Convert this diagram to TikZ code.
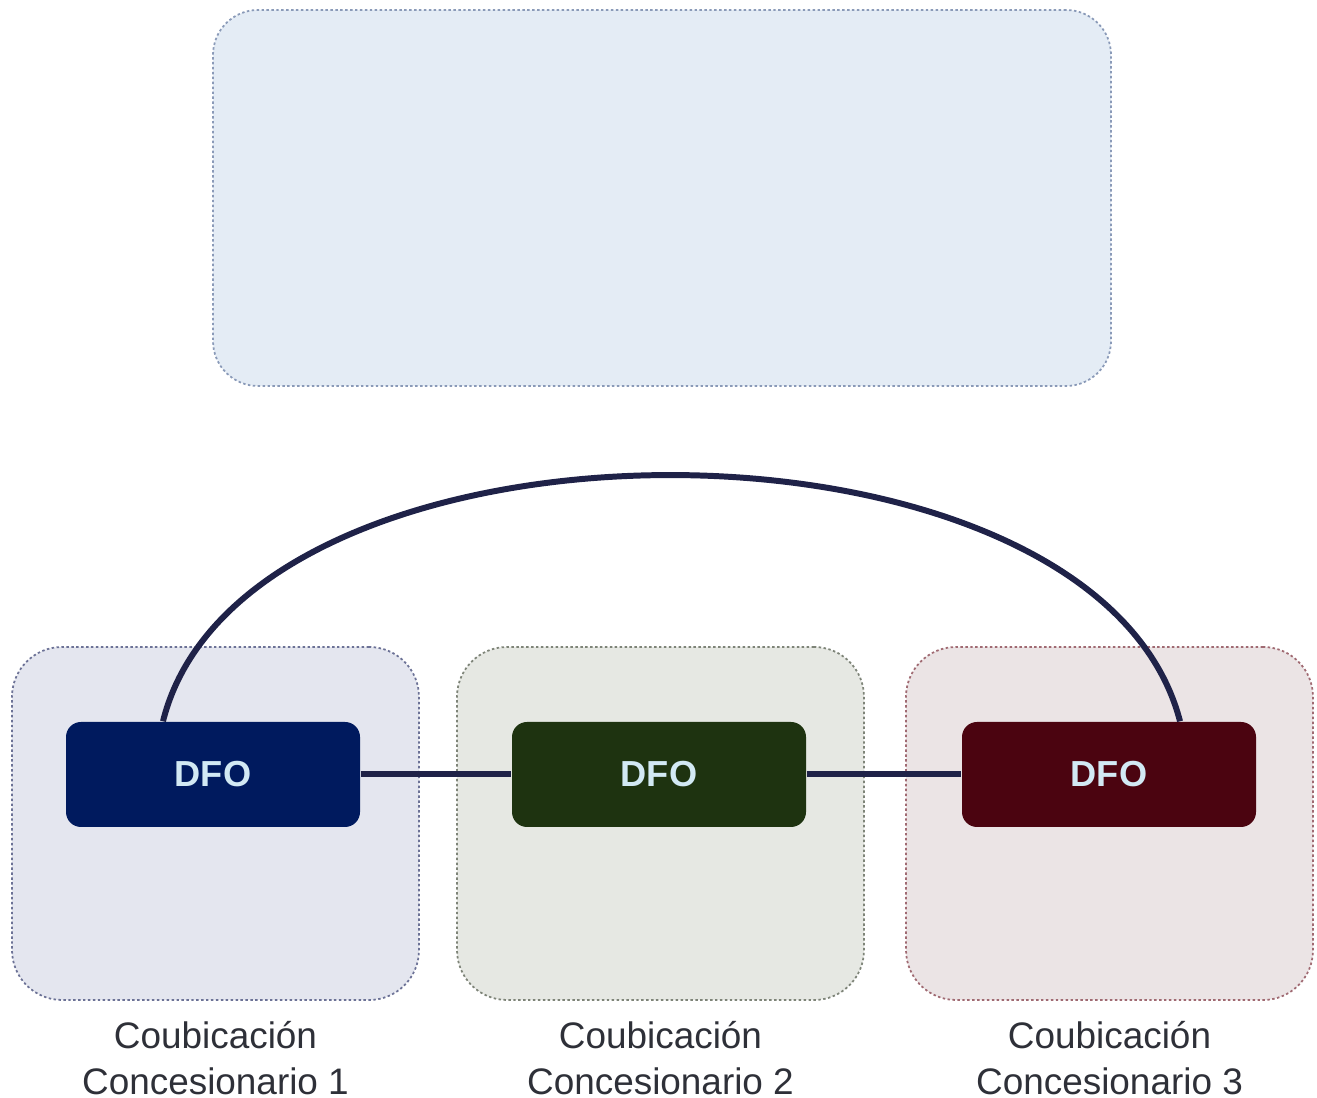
\documentclass[tikz,border=0pt]{standalone}
\usepackage{fontspec}
\setmainfont{Liberation Sans}
\usepackage{xcolor}
\usetikzlibrary{positioning, calc}
\definecolor{topfill}{HTML}{E4ECF5}
\definecolor{topline}{HTML}{8A9AB8}
\definecolor{sitefillA}{HTML}{E4E6EF}
\definecolor{sitelineA}{HTML}{6C7296}
\definecolor{sitefillB}{HTML}{E6E8E3}
\definecolor{sitelineB}{HTML}{7E8478}
\definecolor{sitefillC}{HTML}{EBE4E5}
\definecolor{sitelineC}{HTML}{A06A72}
\definecolor{dfoblue}{HTML}{001A5E}
\definecolor{dfogreen}{HTML}{1E3310}
\definecolor{dfored}{HTML}{4B0410}
\definecolor{dfotext}{HTML}{D2E9F4}
\definecolor{fiber}{HTML}{1F2248}
\definecolor{labeltext}{HTML}{2E3038}
\begin{document}
\begin{tikzpicture}[
    dotline/.style={line width=0.5pt, dash pattern=on 0.7pt off 0.7pt},
    cloud/.style={rectangle, rounded corners=0.45cm, dotline, draw=topline, fill=topfill, minimum width=8.98cm, minimum height=3.76cm},
    site/.style={rectangle, rounded corners=0.5cm, dotline, minimum width=4.07cm, minimum height=3.53cm},
    dfo/.style={rectangle, rounded corners=0.15cm, minimum width=2.94cm, minimum height=1.05cm, text=dfotext, font=\fontsize{10.3}{12}\selectfont\bfseries},
    sitelabel/.style={align=center, text=labeltext, inner sep=0pt, font=\fontsize{10.5}{13}\selectfont},
    link/.style={draw=fiber, line width=1.7pt}
]
\useasboundingbox (0,0) rectangle (13.17,10.98);

% Top area
\node[cloud] (top) at (6.62,9.00) {};

% Sites
\node[site, draw=sitelineA, fill=sitefillA] (siteA) at (2.155,2.745) {};
\node[site, draw=sitelineB, fill=sitefillB] (siteB) at (6.605,2.745) {};
\node[site, draw=sitelineC, fill=sitefillC] (siteC) at (11.095,2.745) {};

% DFO nodes
\node[dfo, fill=dfoblue] (dfoA) at (2.13,3.235) {DFO};
\node[dfo, fill=dfogreen] (dfoB) at (6.59,3.235) {DFO};
\node[dfo, fill=dfored] (dfoC) at (11.09,3.235) {DFO};

% Labels
\node[sitelabel, below=0.2cm of siteA] (labA) {Coubicación\\Concesionario 1};
\node[sitelabel, below=0.2cm of siteB] (labB) {Coubicación\\Concesionario 2};
\node[sitelabel, below=0.2cm of siteC] (labC) {Coubicación\\Concesionario 3};

% Links
\draw[link] (dfoA) -- (dfoB);
\draw[link] (dfoB) -- (dfoC);
\draw[link] ([xshift=-0.5cm]dfoA.north) .. controls (2.45,7.05) and (10.95,7.05) .. ([xshift=0.71cm]dfoC.north);

\end{tikzpicture}
\end{document}
